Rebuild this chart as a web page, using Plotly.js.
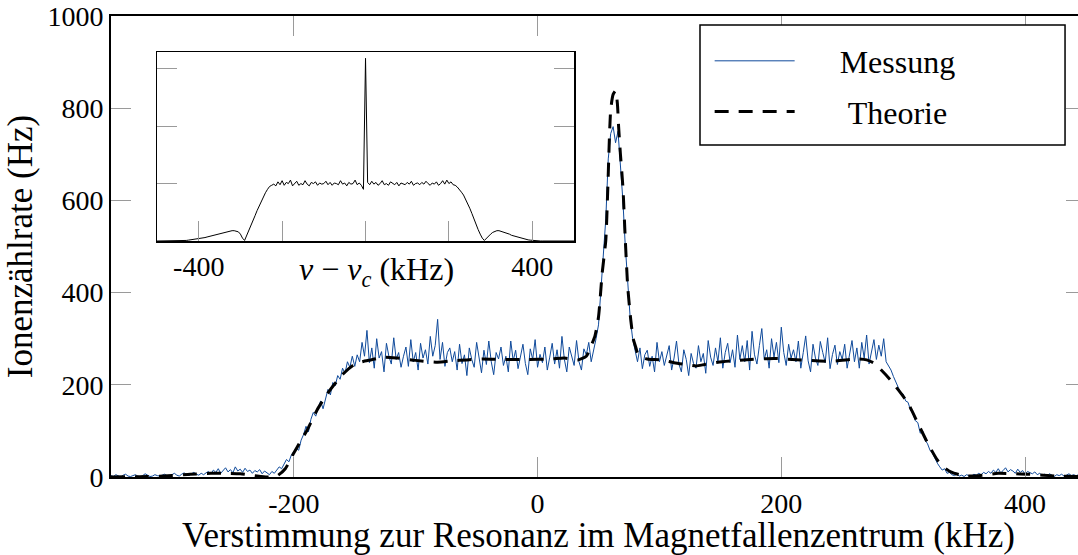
<!DOCTYPE html>
<html>
<head>
<meta charset="utf-8">
<script src="https://cdn.plot.ly/plotly-3.0.1.min.js"></script>
<style>
html,body{margin:0;padding:0;overflow:hidden;background:#fff;}
#chart{width:1086px;height:555px;}
</style>
</head>
<body>
<div id="chart"></div>
<script>
// ---- main measurement (kHz grid start / step, counts in Hz)
const measStartKHz = -350;
const measStepKHz = 2;
const measuredHz = [
 3,1,5,2,0,4,6,2,1,3,5,2,0,3,7,4,1,2,5,3,
 2,4,6,3,1,5,8,4,2,6,9,5,3,7,10,6,4,8,5,9,
 12,7,15,10,18,8,14,20,11,16,9,22,13,17,10,19,12,15,8,14,
 11,16,7,13,9,5,12,8,15,22,18,30,38,33,48,55,62,58,80,92,
 110,98,125,140,132,150,165,148,172,190,178,205,198,220,212,236,225,250,238,262,
 240,265,250,292,262,318,248,280,236,300,258,272,228,290,262,245,302,255,270,238,
 262,282,240,298,250,270,232,290,258,276,245,305,262,285,342,255,292,240,270,280,
 250,272,232,288,246,265,220,280,255,238,292,260,226,275,244,295,250,222,270,256,
 282,242,262,228,295,252,275,235,262,288,246,222,278,255,298,238,266,248,282,232,
 260,290,245,276,236,305,255,228,282,262,242,296,250,232,278,265,292,250,272,300,
 330,400,480,560,690,745,760,725,750,680,600,500,410,345,300,275,250,280,235,265,
 275,240,262,228,292,250,272,242,262,285,232,258,295,245,228,276,255,220,268,246,
 236,285,250,268,225,296,260,242,280,250,302,236,270,290,248,276,238,308,255,285,
 250,296,232,316,265,245,285,322,255,276,236,300,260,292,248,325,270,242,288,258,
 276,250,295,236,270,306,252,228,288,258,242,294,270,248,302,235,266,286,244,272,
 255,288,236,270,296,250,280,236,292,258,308,245,276,298,255,286,262,300,250,240,
 232,218,205,196,182,180,165,162,145,138,122,118,95,100,80,72,58,52,40,30,
 22,15,18,8,10,5,3,6,2,4,1,5,3,2,6,4,8,5,10,7,
 12,8,15,10,18,9,14,20,11,16,13,8,17,10,14,6,12,9,7,11,
 5,8,3,6,2,7,4,1,5,3,6,2,4,7,3,5,2,6,4,3,5
];

// ---- theory curve
const theoryKHz = [-350,-320,-300,-285,-268,-255,-244,-232,-222,-214,-207,-200,-194,-189,-181,-174,-167,-159,-151,-144,-137,-126,-115,-100,-82,-70,-58,-45,-30,-8,11,22,33,40,43.5,47,50,53,56,57.5,60,62,64,65.5,66.5,68,70,72,74,76.5,78.5,80.5,82,84.5,90,101,112,124,130,137,148,169,194,216,241,263,270,276,282,289,296,304,312,320,328,334,339,346,353,365,378,390,402,415,427,450];
const theoryHz  = [0,1,3,6,8,8,7,3,0,2,18,52,80,102,145,175,200,225,243,250,254,260,258,253,249,252,254,256,255,255,256,258,254,262,282,305,347,442,514,616,796,830,838,810,760,700,630,514,412,340,300,282,269,262,256,254,248,243,241,244,249,254,257,254,251,256,254,247,232,212,189,160,117,74,37,20,11,5,2,4,8,7,6,4,2,1];

// ---- inset spectrum (relative units, kHz grid start / step)
const insetStartKHz = -500;
const insetStepKHz = 5;
const insetSignal = [
 0,0,0,0,0,0,0,0,0,0,0,0.005,0.005,0.01,0.01,0.015,0.02,0.02,0.025,0.03,
 0.035,0.04,0.05,0.06,0.07,0.08,0.09,0.1,0.11,0.12,0.13,0.14,0.15,0.16,0.17,0.17,0.18,0.18,0.17,0.16,
 0.12,0.05,0.01,0.09,0.18,0.27,0.36,0.44,0.53,0.61,0.70,0.77,0.84,0.90,0.95,0.97,0.99,0.96,1.03,0.98,
 1.05,0.97,1.02,1.0,1.06,0.96,1.01,1.04,0.97,1.0,0.98,1.05,0.99,0.96,1.02,1.0,1.03,0.97,1.01,0.99,
 1.0,1.04,0.98,1.02,0.97,1.01,1.0,0.98,1.05,0.99,1.01,0.96,1.02,0.99,1.0,1.06,0.98,1.01,0.97,0.9,
 3.18,1.02,0.98,1.04,0.99,1.02,0.97,1.0,1.05,0.98,1.0,0.97,1.03,1.01,0.98,1.02,0.96,1.01,1.0,0.98,
 1.02,0.99,1.04,0.97,1.0,1.01,0.98,1.02,0.99,1.04,1.0,0.97,1.01,0.99,1.03,0.97,1.0,1.05,0.99,1.06,
 1.0,1.03,0.98,0.97,0.94,0.9,0.85,0.8,0.73,0.66,0.57,0.48,0.38,0.28,0.2,0.12,0.05,0.01,0.05,0.09,
 0.12,0.15,0.17,0.18,0.18,0.17,0.16,0.15,0.13,0.12,0.1,0.09,0.08,0.06,0.05,0.04,0.03,0.025,0.02,0.015,
 0.01,0.01,0.005,0.005,0,0,0,0,0,0,0,0,0,0,0,0,0,0,0,0,0
];

const mainTicks = [-200, 0, 200, 400];
const mainTickText = ['-200', '0', '200', '400'];
const mainYTicks = [0, 200, 400, 600, 800, 1000];
const insetTicks = [-400, -200, 0, 200, 400];
const insetTickText = ['-400', '', '', '', '400'];
const insetYTicks = [1, 2, 3];

const measX = measuredHz.map((_, i) => measStartKHz + i * measStepKHz);
const insetX = insetSignal.map((_, i) => insetStartKHz + i * insetStepKHz);

const FONT = '"Liberation Serif", "DejaVu Serif", serif';
const TICKGREY = '#9a9a9a';
const SP = '\u00a0';

const traces = [
  {x: measX, y: measuredHz, type: 'scatter', mode: 'lines', name: SP.repeat(5) + 'Messung',
   line: {color: '#0f4a9b', width: 1}, xaxis: 'x', yaxis: 'y', legendgroup: 'a'},
  {x: theoryKHz, y: theoryHz, type: 'scatter', mode: 'lines', name: SP.repeat(6) + 'Theorie',
   line: {color: '#000', width: 3, dash: '14px,10px', shape: 'spline', smoothing: 0.6},
   xaxis: 'x', yaxis: 'y', legendgroup: 'b'},
  {x: insetX, y: insetSignal, type: 'scatter', mode: 'lines', showlegend: false,
   line: {color: '#000', width: 1}, xaxis: 'x2', yaxis: 'y2'}
];

const layout = {
  width: 1086, height: 555,
  margin: {l: 111, r: 0, t: 16, b: 78},
  paper_bgcolor: '#fff', plot_bgcolor: '#fff',
  font: {family: FONT, size: 28, color: '#000'},
  showlegend: true,
  legend: {x: 0.614, y: 0.962, xanchor: 'left', yanchor: 'top',
    bgcolor: 'rgba(0,0,0,0)', borderwidth: 0, itemwidth: 80,
    font: {family: FONT, size: 32, color: '#000'},
    traceorder: 'grouped', tracegroupgap: 6},
  xaxis: {
    range: [-350, 450], domain: [0, 1],
    tickvals: mainTicks, ticktext: mainTickText, ticks: 'inside', ticklen: 20, tickwidth: 1, tickcolor: TICKGREY,
    tickfont: {family: FONT, size: 28, color: '#000'},
    showline: true, linecolor: '#000', linewidth: 2, mirror: 'ticks',
    showgrid: false, zeroline: false,
    title: {text: 'Verstimmung zur Resonanz im Magnetfallenzentrum (kHz)', font: {family: FONT, size: 35, color: '#000'}, standoff: 2}
  },
  yaxis: {
    range: [0, 1000], domain: [0, 1],
    tickvals: mainYTicks, ticks: 'inside', ticklen: 20, tickwidth: 1, tickcolor: TICKGREY,
    tickfont: {family: FONT, size: 28, color: '#000'},
    showline: true, linecolor: '#000', linewidth: 2, mirror: 'ticks',
    showgrid: false, zeroline: false,
    title: {text: 'Ionenzählrate (Hz)', font: {family: FONT, size: 35, color: '#000'}, standoff: 4}
  },
  xaxis2: {
    range: [-500, 500], domain: [0.0472, 0.4749], anchor: 'y2',
    tickvals: insetTicks, ticktext: insetTickText,
    tickfont: {family: FONT, size: 28, color: '#000'},
    ticks: 'inside', ticklen: 20, tickwidth: 1, tickcolor: TICKGREY,
    showline: true, linecolor: '#000', linewidth: 1.5, mirror: true,
    showgrid: false, zeroline: false
  },
  yaxis2: {
    range: [0, 3.29], domain: [0.5119, 0.9219], anchor: 'x2',
    tickvals: insetYTicks, showticklabels: false,
    ticks: 'inside', ticklen: 20, tickwidth: 1, tickcolor: TICKGREY,
    showline: true, linecolor: '#000', linewidth: 1.5, mirror: 'ticks',
    showgrid: false, zeroline: false
  },
  shapes: [
    {type: 'rect', xref: 'paper', yref: 'paper', x0: 0.6041, x1: 0.9785, y0: 0.7202, y1: 0.9805,
     fillcolor: '#fff', line: {color: '#000', width: 1.5}, layer: 'above'}
  ],
  annotations: [
    {xref: 'paper', yref: 'paper', x: 0.2728, y: 0.4447, xanchor: 'center', yanchor: 'middle',
     showarrow: false, text: '<i>ν</i> − <i>ν</i><sub><i>c</i></sub> (kHz)',
     font: {family: FONT, size: 32, color: '#000'}}
  ]
};

Plotly.newPlot('chart', traces, layout, {displayModeBar: false, staticPlot: true});
</script>
</body>
</html>
